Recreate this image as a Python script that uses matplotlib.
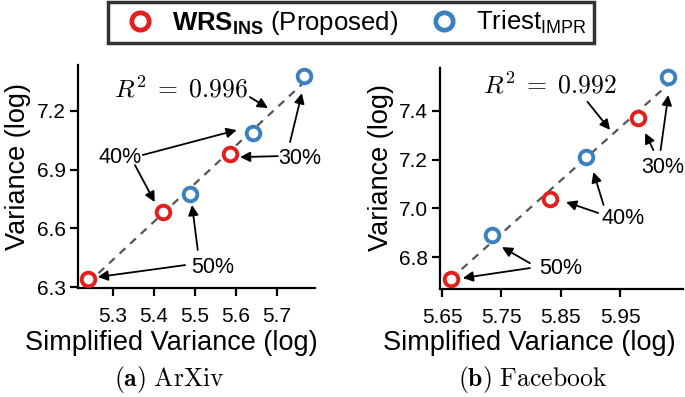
import matplotlib
matplotlib.use('Agg')
import matplotlib.pyplot as plt
from matplotlib.lines import Line2D
import numpy as np

plt.rcParams['font.family'] = ['Liberation Sans', 'DejaVu Sans']
plt.rcParams['mathtext.fontset'] = 'custom'
plt.rcParams['mathtext.rm'] = 'Liberation Sans'
plt.rcParams['mathtext.bf'] = 'Liberation Sans:bold'

RED = '#e31e1c'
BLUE = '#3b80c0'

# ArXiv: (simplified variance, variance), log scale values
arxiv_wrs_x = [5.239, 5.422, 5.585]
arxiv_wrs_y = [6.34, 6.683, 6.98]
arxiv_tri_x = [5.488, 5.641, 5.766]
arxiv_tri_y = [6.775, 7.087, 7.378]
arxiv_r2 = 0.996

# Facebook
fb_wrs_x = [5.665, 5.832, 5.98]
fb_wrs_y = [6.71, 7.04, 7.37]
fb_tri_x = [5.734, 5.893, 6.03]
fb_tri_y = [6.89, 7.21, 7.54]
fb_r2 = 0.992

# annotation layout: (label, text xy, [(arrow start, arrow end), ...])
arxiv_notes = [
    ('40%', (5.317, 6.964), [((5.373, 6.975), (5.602, 7.102)),
                             ((5.354, 6.923), (5.402, 6.734))]),
    ('30%', (5.756, 6.959), [((5.702, 6.969), (5.610, 6.964)),
                             ((5.732, 7.041), (5.761, 7.291))]),
    ('50%', (5.544, 6.402), [((5.476, 6.412), (5.263, 6.351)),
                             ((5.507, 6.489), (5.493, 6.719))]),
]
arxiv_r2_pos = ((5.466, 7.312), (5.634, 7.271), (5.678, 7.215))

fb_notes = [
    ('30%', (6.021, 7.166), [((6.006, 7.239), (5.992, 7.309)),
                             ((6.018, 7.239), (6.031, 7.465))]),
    ('40%', (5.954, 6.960), [((5.922, 7.014), (5.905, 7.149)),
                             ((5.913, 6.981), (5.859, 7.026))]),
    ('50%', (5.849, 6.755), [((5.798, 6.775), (5.751, 6.841)),
                             ((5.798, 6.755), (5.685, 6.714))]),
]
fb_r2_pos = ((5.832, 7.506), (5.895, 7.437), (5.933, 7.322))


def draw_panel(ax, wx, wy, tx, ty, r2, notes, r2pos, xlim, ylim, xticks, yticks,
               xlab_pos, ylab_pos):
    allx = np.array(wx + tx)
    ally = np.array(wy + ty)
    k, b = np.polyfit(allx, ally, 1)
    lx = np.array([allx.min(), allx.max()])
    ax.plot(lx, k * lx + b, '--', color='#555555', lw=1.6, dashes=(3.5, 3), zorder=1)
    ax.plot(wx, wy, 'o', mfc='white', mec=RED, mew=2.8, ms=9.8, zorder=3)
    ax.plot(tx, ty, 'o', mfc='white', mec=BLUE, mew=2.8, ms=9.8, zorder=3)

    ap = dict(arrowstyle='-|>', color='black', lw=1.3, mutation_scale=15,
              shrinkA=0, shrinkB=0)
    for label, pos, arrows in notes:
        ax.text(pos[0], pos[1], label, ha='center', va='center', fontsize=15.5)
        for start, end in arrows:
            ax.annotate('', xy=end, xytext=start, arrowprops=ap)
    tpos, astart, aend = r2pos
    ax.text(tpos[0], tpos[1], r'$R^2\;=\;%.3f$' % r2, ha='center', va='center',
            fontsize=18.5, math_fontfamily='cm')
    ax.annotate('', xy=aend, xytext=astart, arrowprops=ap)

    ax.set_xlim(xlim)
    ax.set_ylim(ylim)
    ax.set_xticks(xticks)
    ax.set_yticks(yticks)
    for s in ['top', 'right']:
        ax.spines[s].set_visible(False)
    for s in ['left', 'bottom']:
        ax.spines[s].set_linewidth(1.6)
    ax.tick_params(width=1.6, length=5.5, labelsize=15)
    ax.tick_params(axis='x', pad=8)
    ax.tick_params(axis='y', pad=3)
    ax.set_xlabel('Simplified Variance (log)', fontsize=19.5)
    ax.set_ylabel('Variance (log)', fontsize=19.5)
    ax.xaxis.set_label_coords(*xlab_pos)
    ax.yaxis.set_label_coords(*ylab_pos)


fig = plt.figure(figsize=(6.85, 3.97), dpi=100)
ax1 = fig.add_axes([0.1139, 0.2746, 0.346, 0.5617])
ax2 = fig.add_axes([0.6423, 0.272, 0.355, 0.5567])

draw_panel(ax1, arxiv_wrs_x, arxiv_wrs_y, arxiv_tri_x, arxiv_tri_y, arxiv_r2,
           arxiv_notes, arxiv_r2_pos, (5.215, 5.793), (6.295, 7.435),
           [5.3, 5.4, 5.5, 5.6, 5.7], [6.3, 6.6, 6.9, 7.2],
           (0.392, -0.19), (-0.20, 0.545))
draw_panel(ax2, fb_wrs_x, fb_wrs_y, fb_tri_x, fb_tri_y, fb_r2,
           fb_notes, fb_r2_pos, (5.6466, 6.056), (6.669, 7.576),
           [5.65, 5.75, 5.85, 5.95], [6.8, 7.0, 7.2, 7.4],
           (0.366, -0.187), (-0.19, 0.55))

handles = [
    Line2D([], [], ls='', marker='o', mfc='white', mec=RED, mew=3.4, ms=12.5),
    Line2D([], [], ls='', marker='o', mfc='white', mec=BLUE, mew=3.4, ms=12.5),
]
labels = [r'$\mathbf{WRS}_\mathbf{INS}$ (Proposed)', r'Triest$_\mathregular{IMPR}$']
leg = fig.legend(handles, labels, loc='center', bbox_to_anchor=(0.512, 0.943),
                 ncol=2, fontsize=18.5, frameon=True, fancybox=False,
                 edgecolor='black', handletextpad=0.25, columnspacing=0.8,
                 borderpad=0.25, handlelength=2.0, borderaxespad=0)
leg.get_frame().set_linewidth(2.5)

fig.text(0.247, 0.043, r'$\mathbf{(a)}\ \mathrm{ArXiv}$', ha='center', va='center',
         fontsize=18.5, math_fontfamily='cm')
fig.text(0.777, 0.043, r'$\mathbf{(b)}\ \mathrm{Facebook}$', ha='center', va='center',
         fontsize=18.5, math_fontfamily='cm')

fig.savefig('out.png', dpi=100)
